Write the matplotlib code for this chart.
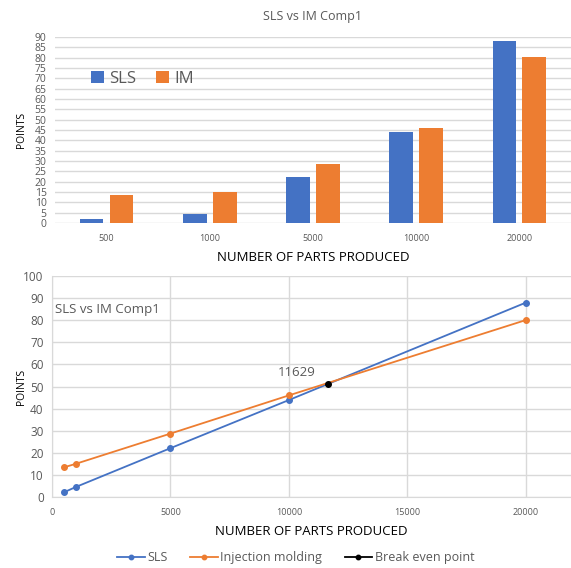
import numpy as np
import matplotlib.pyplot as plt

plt.rcParams['font.family'] = ['Open Sans', 'DejaVu Sans']

# parts produced and points per process
parts = [500, 1000, 5000, 10000, 20000]
part_labels = ['500', '1000', '5000', '10000', '20000']
sls_points = [2.1, 4.5, 22.1, 43.9, 88.0]
im_points = [13.4, 15.0, 28.7, 46.0, 80.1]
break_even_x = [11629]
break_even_y = [51.2]

blue = '#4472C4'
orange = '#ED7D31'
text_col = '#595959'
grid_col = '#D9D9D9'

fig = plt.figure(figsize=(5.71, 5.68), dpi=100)

# ---- bar chart ----
ax1 = fig.add_axes([0.0963, 0.6074, 0.9037, 0.3275])
idx = np.arange(len(parts))
w = 0.23
ax1.bar(idx - w / 2 - 0.03, sls_points, w, color=blue, label='SLS', zorder=3)
ax1.bar(idx + w / 2 + 0.03, im_points, w, color=orange, label='IM', zorder=3)
ax1.set_xlim(-0.5, len(parts) - 0.5)
ax1.set_ylim(0, 90)
ax1.set_yticks(np.arange(0, 91, 5))
ax1.set_xticks(idx)
ax1.set_xticklabels(part_labels)
ax1.tick_params(axis='y', labelsize=7.5, colors=text_col, length=0, pad=6)
ax1.tick_params(axis='x', labelsize=6.5, colors=text_col, length=0, pad=8)
ax1.grid(axis='y', color=grid_col, lw=1, zorder=0)
for s in ax1.spines.values():
    s.set_visible(False)
ax1.set_title('SLS vs IM Comp1', fontsize=9, color=text_col, pad=12)
ax1.set_xlabel('NUMBER OF PARTS PRODUCED', fontsize=9.5, color='black', labelpad=6)
ax1.set_ylabel('POINTS', fontsize=7.5, color='black')
ax1.yaxis.set_label_coords(-0.054, 0.5)
ax1.legend(loc='upper left', bbox_to_anchor=(0.04, 0.9), ncol=2, frameon=False,
           fontsize=12, handlelength=0.8, handleheight=0.8, handletextpad=0.3,
           columnspacing=1.2, labelcolor=text_col)

# ---- line chart ----
ax2 = fig.add_axes([0.091, 0.125, 0.909, 0.389])
ax2.plot(parts, sls_points, color=blue, marker='o', ms=4, lw=1.3, label='SLS', zorder=3)
ax2.plot(parts, im_points, color=orange, marker='o', ms=4, lw=1.3, label='Injection molding', zorder=3)
ax2.plot(break_even_x, break_even_y, color='black', marker='o', ms=4, lw=1.3,
         label='Break even point', zorder=4)
ax2.annotate(str(break_even_x[0]), (break_even_x[0], break_even_y[0]),
             xytext=(-36, 6), textcoords='offset points', fontsize=9.5, color=text_col)
ax2.text(0.005, 0.85, 'SLS vs IM Comp1', transform=ax2.transAxes, fontsize=9.5,
         color=text_col, va='center')
ax2.set_xlim(0, 21900)
ax2.set_ylim(0, 100)
ax2.set_xticks(np.arange(0, 20001, 5000))
ax2.set_yticks(np.arange(0, 101, 10))
ax2.tick_params(axis='y', labelsize=8.5, colors=text_col, length=0, pad=6)
ax2.tick_params(axis='x', labelsize=6.5, colors=text_col, length=0, pad=8)
ax2.grid(True, color=grid_col, lw=1, zorder=0)
for name, s in ax2.spines.items():
    if name in ('left', 'bottom'):
        s.set_color(grid_col)
    else:
        s.set_visible(False)
ax2.set_xlabel('NUMBER OF PARTS PRODUCED', fontsize=9.5, color='black', labelpad=6)
ax2.set_ylabel('POINTS', fontsize=7.5, color='black')
ax2.yaxis.set_label_coords(-0.048, 0.5)
ax2.legend(loc='center', bbox_to_anchor=(0.47, -0.274), ncol=3, frameon=False,
           fontsize=9, handlelength=2.2, handletextpad=0.2, columnspacing=1.8,
           labelcolor=text_col, markerscale=0.8)

fig.savefig('out.png', dpi=100)
